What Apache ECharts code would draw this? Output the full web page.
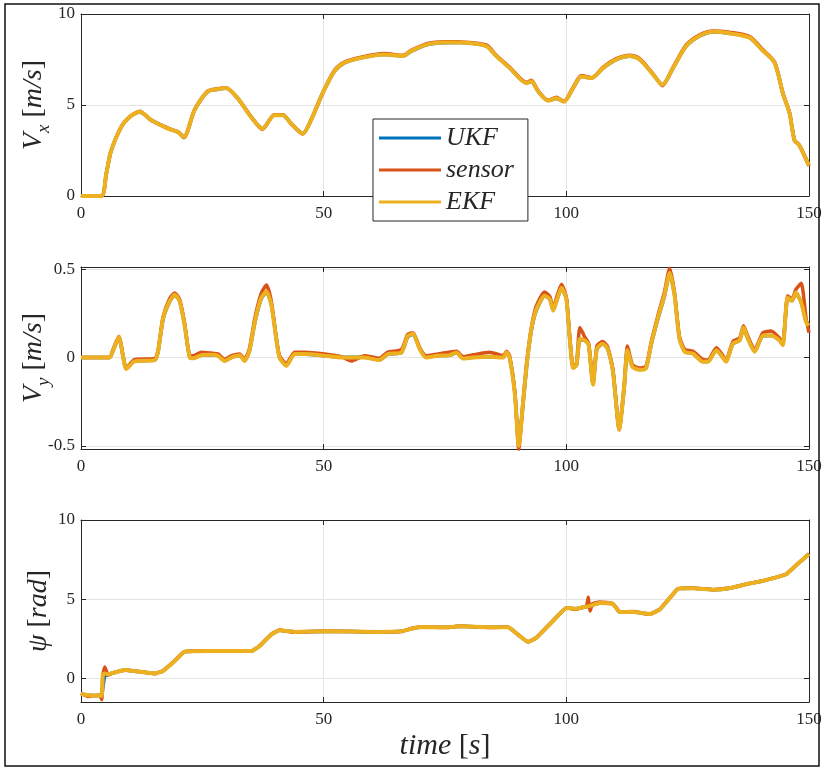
<!DOCTYPE html>
<html>
<head>
<meta charset="utf-8">
<script src="https://cdn.jsdelivr.net/npm/echarts@6/dist/echarts.min.js"></script>
<style>
  html, body { margin: 0; padding: 0; background: #fff; }
  #chart { width: 825px; height: 768px; }
</style>
</head>
<body>
<div id="chart"></div>
<script>
// ---- longitudinal velocity V_x [m/s] ----
const timeVx = [0, 4.2, 5.2, 6.2, 8.3, 10.0, 12.1, 14.5, 17.9, 20.0, 21.2, 23.4, 26.1, 28.2, 29.9, 32.3, 35.0, 37.4, 39.8, 41.6, 43.3, 45.7, 47.4, 49.8, 52.2, 54.3, 57.7, 62.5, 66.3, 68.0, 71.4, 74.8, 78.0, 83.5, 85.6, 88.3, 91.8, 92.8, 94.2, 96.2, 98.0, 99.5, 101.4, 103.1, 105.2, 107.6, 110.3, 113.1, 115.1, 117.9, 119.8, 122.0, 124.7, 127.5, 130.2, 133.6, 137.8, 140.2, 142.9, 144.6, 146.0, 147.0, 148.0, 150];
const vxUKF = [0, 0, 1.19, 2.49, 3.79, 4.35, 4.62, 4.17, 3.71, 3.52,
  3.25, 4.71, 5.73, 5.87, 5.92, 5.38, 4.36, 3.71, 4.43, 4.44,
  3.99, 3.44, 4.16, 5.64, 6.84, 7.31, 7.59, 7.77, 7.69, 7.95,
  8.32, 8.42, 8.43, 8.24, 7.69, 7.05, 6.21, 6.29, 5.75, 5.25,
  5.36, 5.19, 5.92, 6.56, 6.48, 7.03, 7.49, 7.68, 7.51, 6.68,
  6.12, 7.03, 8.23, 8.79, 9.01, 8.94, 8.7, 8.07, 7.33, 5.66,
  4.55, 3.07, 2.79, 1.68];
const vxSensor = [0, 0, 1.22, 2.48, 3.82, 4.33, 4.66, 4.15, 3.73, 3.5,
  3.2, 4.75, 5.76, 5.9, 5.95, 5.35, 4.38, 3.66, 4.47, 4.46,
  3.96, 3.4, 4.2, 5.67, 6.9, 7.36, 7.63, 7.83, 7.73, 8.0,
  8.38, 8.48, 8.47, 8.3, 7.72, 7.08, 6.24, 6.36, 5.77, 5.26,
  5.42, 5.2, 5.97, 6.62, 6.5, 7.08, 7.55, 7.74, 7.55, 6.7,
  6.06, 7.08, 8.3, 8.86, 9.07, 9.0, 8.76, 8.12, 7.36, 5.67,
  4.56, 3.08, 2.8, 1.65];
const vxEKF = [0, 0, 1.2, 2.5, 3.8, 4.35, 4.63, 4.17, 3.7, 3.52,
  3.24, 4.72, 5.74, 5.87, 5.93, 5.37, 4.35, 3.7, 4.44, 4.44,
  3.98, 3.43, 4.17, 5.65, 6.85, 7.32, 7.59, 7.78, 7.69, 7.96,
  8.33, 8.43, 8.43, 8.24, 7.68, 7.04, 6.2, 6.3, 5.74, 5.24,
  5.37, 5.18, 5.93, 6.57, 6.48, 7.04, 7.5, 7.69, 7.5, 6.67,
  6.11, 7.04, 8.24, 8.8, 9.02, 8.94, 8.7, 8.06, 7.32, 5.65,
  4.54, 3.06, 2.78, 1.67];

// ---- lateral velocity V_y [m/s] ----
const timeVy = [0, 5.9, 6.6, 7.8, 8.7, 9.3, 11.0, 15.2, 15.9, 16.9,
  18.3, 19.3, 20.3, 21.3, 22.4, 23.1, 24.8, 26.8, 28.2, 29.6,
  31.0, 32.7, 33.7, 34.7, 35.8, 37.1, 38.2, 39.2, 40.2, 40.9,
  42.3, 44.0, 46.1, 50.2, 53.6, 55.7, 58.4, 61.5, 63.2, 66.0,
  67.3, 68.4, 69.8, 71.1, 73.5, 75.9, 77.4, 78.7, 80.8, 84.2,
  87.0, 87.7, 88.3, 89.4, 90.2, 91.1, 91.9, 92.8, 93.8, 95.5,
  96.6, 97.3, 98.1, 99.0, 100.0, 100.7, 101.4, 102.1, 102.8, 103.8,
  104.6, 105.5, 106.3, 107.5, 108.5, 109.6, 110.9, 111.9, 112.6, 113.6,
  115.0, 116.4, 117.5, 118.8, 120.2, 121.3, 122.3, 123.3, 124.4, 126.1,
  128.1, 129.2, 130.9, 131.9, 132.9, 134.3, 135.7, 136.5, 137.4, 138.8,
  140.5, 142.2, 143.9, 144.6, 145.6, 146.5, 147.3, 148.4, 149.4, 150];
const vyUKF = [0, 0, 0.038, 0.112, 0.002, -0.062, -0.02, -0.014, 0.035, 0.215,
  0.318, 0.352, 0.322, 0.195, 0.002, -0.004, 0.012, 0.014, 0.011, -0.018,
  0.001, 0.012, -0.018, 0.035, 0.195, 0.33, 0.37, 0.305, 0.115, 0.002,
  -0.045, 0.018, 0.018, 0.01, 0.001, 0.001, 0.001, -0.014, 0.018, 0.027,
  0.115, 0.132, 0.05, 0.002, 0.01, 0.012, 0.027, -0.005, 0.001, 0.004,
  0.001, 0.028, 0.002, -0.2, -0.49, -0.26, -0.03, 0.155, 0.265, 0.348,
  0.332, 0.268, 0.328, 0.392, 0.335, 0.11, -0.058, -0.045, 0.1, 0.098,
  0.072, -0.15, 0.048, 0.077, 0.052, -0.075, -0.4, -0.18, 0.038, -0.05,
  -0.068, -0.06, 0.075, 0.212, 0.345, 0.475, 0.355, 0.11, 0.034, 0.022,
  -0.022, -0.023, 0.04, 0.014, -0.022, 0.076, 0.096, 0.165, 0.108, 0.034,
  0.122, 0.124, 0.098, 0.072, 0.335, 0.322, 0.362, 0.312, 0.205, 0.182];
const vySensor = [0, 0, 0.045, 0.12, 0.005, -0.06, -0.012, -0.005, 0.045, 0.23,
  0.335, 0.365, 0.33, 0.2, 0.01, 0.01, 0.03, 0.025, 0.02, -0.01,
  0.01, 0.02, -0.01, 0.05, 0.22, 0.36, 0.41, 0.32, 0.12, 0.01,
  -0.035, 0.03, 0.03, 0.02, 0.005, -0.02, 0.01, -0.005, 0.03, 0.045,
  0.13, 0.14, 0.055, 0.01, 0.02, 0.03, 0.035, 0.005, 0.015, 0.03,
  0.01, 0.035, 0.01, -0.2, -0.52, -0.24, -0.01, 0.17, 0.29, 0.37,
  0.345, 0.28, 0.35, 0.415, 0.34, 0.12, -0.05, -0.03, 0.17, 0.115,
  0.08, -0.15, 0.065, 0.09, 0.06, -0.07, -0.41, -0.16, 0.065, -0.04,
  -0.06, -0.05, 0.09, 0.23, 0.37, 0.505, 0.365, 0.12, 0.045, 0.035,
  -0.01, -0.015, 0.055, 0.025, -0.015, 0.09, 0.11, 0.18, 0.12, 0.045,
  0.14, 0.15, 0.11, 0.08, 0.35, 0.33, 0.385, 0.42, 0.22, 0.14];
const vyEKF = [0, 0, 0.04, 0.116, 0, -0.065, -0.022, -0.015, 0.037, 0.22,
  0.32, 0.355, 0.32, 0.19, 0, -0.005, 0.013, 0.015, 0.01, -0.02,
  0, 0.013, -0.02, 0.037, 0.2, 0.335, 0.373, 0.3, 0.11, 0,
  -0.047, 0.019, 0.019, 0.01, 0, 0, 0, -0.015, 0.019, 0.028,
  0.12, 0.134, 0.047, 0, 0.01, 0.013, 0.028, -0.006, 0, 0.004,
  0, 0.03, 0, -0.21, -0.5, -0.25, -0.024, 0.16, 0.27, 0.35,
  0.33, 0.265, 0.33, 0.395, 0.33, 0.106, -0.06, -0.043, 0.106, 0.097,
  0.07, -0.155, 0.05, 0.078, 0.05, -0.08, -0.407, -0.174, 0.041, -0.052,
  -0.07, -0.062, 0.078, 0.218, 0.35, 0.48, 0.35, 0.106, 0.032, 0.022,
  -0.024, -0.024, 0.041, 0.013, -0.024, 0.078, 0.097, 0.17, 0.106, 0.032,
  0.125, 0.125, 0.097, 0.07, 0.34, 0.32, 0.367, 0.31, 0.2, 0.18];

// ---- heading angle psi [rad] ----
const timePsi = [0, 1.4, 3.8, 4.3, 4.5, 4.9, 5.6, 6.9, 9.0, 11.7,
  15.2, 16.9, 19.3, 21.3, 26.8, 35.1, 36.8, 39.2, 40.9, 44.0,
  50.2, 61.2, 66.0, 68.0, 70.1, 75.6, 78.0, 84.2, 88.0, 90.0,
  92.1, 93.8, 97.2, 100.0, 101.9, 103.6, 104.2, 104.5, 104.9, 105.4,
  106.9, 109.6, 111.0, 113.8, 117.2, 119.2, 121.3, 123.0, 126.1, 130.2,
  133.6, 137.1, 140.5, 145.3, 147.4, 150];
const psiUKF = [-1.0, -1.07, -1.1, -1.1, -0.6, 0.15, 0.24, 0.36, 0.52, 0.42,
  0.3, 0.46, 1.09, 1.67, 1.72, 1.72, 2.03, 2.76, 3.03, 2.93,
  2.97, 2.93, 2.97, 3.12, 3.24, 3.22, 3.28, 3.22, 3.22, 2.76,
  2.3, 2.55, 3.6, 4.44, 4.39, 4.49, 4.52, 4.54, 4.56, 4.62,
  4.75, 4.69, 4.18, 4.18, 4.06, 4.33, 5.06, 5.65, 5.69, 5.59,
  5.69, 5.94, 6.15, 6.57, 7.15, 7.85];
const psiSensor = [-0.95, -1.15, -1.05, -1.35, 0.2, 0.71, 0.2, 0.38, 0.5, 0.45,
  0.28, 0.48, 1.1, 1.68, 1.74, 1.7, 2.05, 2.78, 3.05, 2.9,
  2.99, 2.91, 2.95, 3.14, 3.26, 3.2, 3.3, 3.2, 3.24, 2.78,
  2.3, 2.57, 3.62, 4.46, 4.36, 4.5, 4.58, 5.12, 4.25, 4.72,
  4.82, 4.72, 4.2, 4.22, 4.04, 4.35, 5.08, 5.67, 5.7, 5.6,
  5.7, 5.96, 6.16, 6.58, 7.16, 7.86];
const psiEKF = [-1.0, -1.07, -1.1, -1.1, 0.25, 0.3, 0.25, 0.36, 0.52, 0.42,
  0.3, 0.46, 1.09, 1.67, 1.72, 1.72, 2.03, 2.76, 3.03, 2.93,
  2.97, 2.93, 2.97, 3.12, 3.24, 3.22, 3.28, 3.22, 3.22, 2.76,
  2.3, 2.55, 3.6, 4.44, 4.39, 4.5, 4.52, 4.55, 4.57, 4.62,
  4.75, 4.69, 4.18, 4.18, 4.06, 4.33, 5.06, 5.65, 5.69, 5.59,
  5.69, 5.94, 6.15, 6.57, 7.15, 7.85];

// ---- names, ticks ----
const seriesNames = ['UKF', 'sensor', 'EKF'];
const seriesColors = ['#0072BD', '#D95319', '#EDB120'];
const timeTicks = [0, 50, 100, 150];
const vxTicks = [0, 5, 10];
const vyTicks = [-0.5, 0, 0.5];
const psiTicks = [0, 5, 10];

function pairs(t, v) {
  if (t.length !== v.length) throw new Error('length mismatch: ' + t.length + ' vs ' + v.length);
  return t.map((x, i) => [x, v[i]]);
}

const serif = "'Liberation Serif', 'DejaVu Serif', serif";
const ink = '#262626';
const gridColor = '#e4e4e4';

const panels = [
  { top: 14, min: 0, max: 10, ticks: vxTicks, time: timeVx, data: [vxUKF, vxSensor, vxEKF], smooth: 0.25,
    name: '{i|V}{s|x}{r| [}{i|m/s}{r|]}', nameGap: 31 },
  { top: 267, min: -0.518, max: 0.512, ticks: vyTicks, time: timeVy, data: [vyUKF, vySensor, vyEKF], smooth: 0.2,
    name: '{i|V}{s|y}{r| [}{i|m/s}{r|]}', nameGap: 31 },
  { top: 520, min: -1.5, max: 10, ticks: psiTicks, time: timePsi, data: [psiUKF, psiSensor, psiEKF], smooth: 0.1,
    name: '{i|ψ}{r| [}{i|rad}{r|]}', nameGap: 26 }
];

const richName = {
  i: { fontFamily: serif, fontStyle: 'italic', fontSize: 28, color: ink, lineHeight: 30, verticalAlign: 'top' },
  r: { fontFamily: serif, fontSize: 28, color: ink, lineHeight: 30, verticalAlign: 'top' },
  s: { fontFamily: serif, fontStyle: 'italic', fontSize: 19, color: ink, lineHeight: 19, verticalAlign: 'top', padding: [14, 0, 0, 0] }
};

const grids = [], xAxes = [], yAxes = [], series = [];
const mirrorX = [], mirrorY = [];

panels.forEach((p, k) => {
  grids.push({ left: 81, top: p.top, width: 728, height: 182, containLabel: false, outerBoundsMode: 'none' });
  const last = k === panels.length - 1;
  xAxes.push({
    type: 'value', gridIndex: k, min: 0, max: 150, position: 'bottom',
    axisLine: { show: true, onZero: false, lineStyle: { color: ink, width: 1 } },
    axisTick: { show: true, inside: true, length: 5, customValues: timeTicks, lineStyle: { color: ink } },
    axisLabel: { show: true, customValues: timeTicks, color: ink, fontFamily: serif, fontSize: 17, margin: 9 },
    splitLine: { show: true, lineStyle: { color: gridColor, width: 1 } },
    name: last ? '{i|time}{r| [}{i|s}{r|]}' : '',
    nameLocation: 'middle', nameGap: 29, nameMoveOverlap: false,
    nameTextStyle: { rich: {
      i: { fontFamily: serif, fontStyle: 'italic', fontSize: 30, color: ink },
      r: { fontFamily: serif, fontSize: 30, color: ink }
    } }
  });
  mirrorX.push({
    type: 'value', gridIndex: k, min: 0, max: 150, position: 'top',
    axisLine: { show: true, onZero: false, lineStyle: { color: ink, width: 1 } },
    axisTick: { show: true, inside: true, length: 5, customValues: timeTicks, lineStyle: { color: ink } },
    axisLabel: { show: false }, splitLine: { show: false }
  });
  yAxes.push({
    type: 'value', gridIndex: k, min: p.min, max: p.max, position: 'left',
    axisLine: { show: true, onZero: false, lineStyle: { color: ink, width: 1 } },
    axisTick: { show: true, inside: true, length: 5, customValues: p.ticks, lineStyle: { color: ink } },
    axisLabel: { show: true, customValues: p.ticks, color: ink, fontFamily: serif, fontSize: 17, margin: 6 },
    splitLine: { show: true, lineStyle: { color: gridColor, width: 1 } },
    name: p.name, nameLocation: 'middle', nameRotate: 90, nameGap: p.nameGap, nameMoveOverlap: false,
    nameTextStyle: { rich: richName }
  });
  mirrorY.push({
    type: 'value', gridIndex: k, min: p.min, max: p.max, position: 'right',
    axisLine: { show: true, onZero: false, lineStyle: { color: ink, width: 1 } },
    axisTick: { show: true, inside: true, length: 5, customValues: p.ticks, lineStyle: { color: ink } },
    axisLabel: { show: false }, splitLine: { show: false }
  });
  seriesNames.forEach((nm, j) => {
    series.push({
      name: nm, type: 'line', xAxisIndex: k, yAxisIndex: k,
      data: pairs(p.time, p.data[j]),
      showSymbol: false, symbol: 'none', smooth: p.smooth,
      lineStyle: { color: seriesColors[j], width: j === 2 ? 4 : 3.5 },
      itemStyle: { color: seriesColors[j] },
      z: 2 + j, animation: false, silent: true
    });
  });
});

const chart = echarts.init(document.getElementById('chart'), null, { renderer: 'canvas' });
chart.setOption({
  backgroundColor: '#fff',
  animation: false,
  grid: grids,
  xAxis: xAxes.concat(mirrorX),
  yAxis: yAxes.concat(mirrorY),
  legend: {
    data: seriesNames, orient: 'vertical', left: 373, top: 119,
    icon: 'rect', itemWidth: 62, itemHeight: 3, itemGap: 6,
    padding: [6, 14, 6, 6],
    backgroundColor: '#fff', borderColor: ink, borderWidth: 1, borderRadius: 0,
    textStyle: { fontFamily: serif, fontStyle: 'italic', fontSize: 26, lineHeight: 24, color: ink },
    selectedMode: false
  },
  graphic: [{
    type: 'rect', silent: true, z: 100,
    shape: { x: 5, y: 4, width: 814, height: 762 },
    style: { fill: 'none', stroke: '#111', lineWidth: 1.5 }
  }],
  series: series
});
</script>
</body>
</html>
